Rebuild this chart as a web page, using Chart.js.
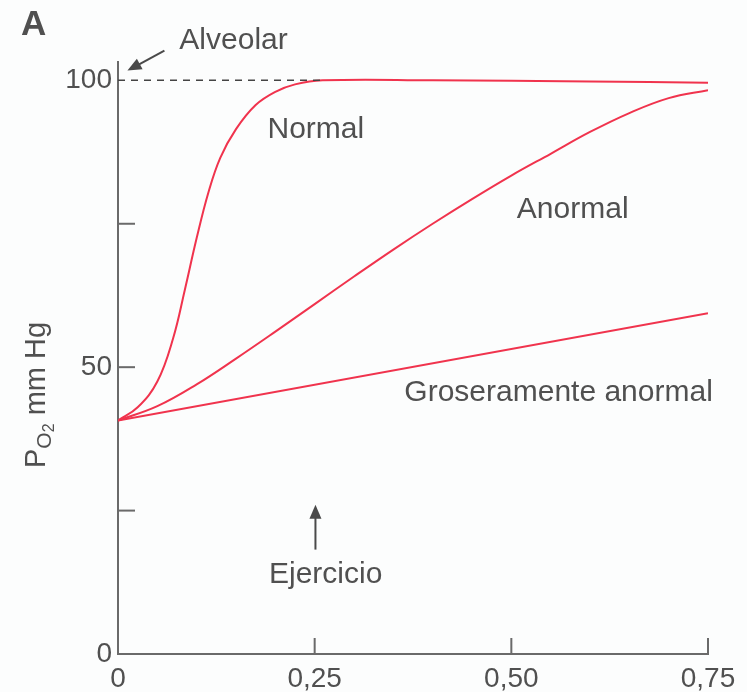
<!DOCTYPE html>
<html>
<head>
<meta charset="utf-8">
<script src="https://cdn.jsdelivr.net/npm/chart.js@4"></script>
<style>
  html, body { margin: 0; padding: 0; background: #fcfdfd; }
  canvas { display: block; }
</style>
</head>
<body>
<canvas id="chart" width="747" height="692"></canvas>
<script>
// tick values
const xTicks = [0, 0.25, 0.5, 0.75];
const yTicks = [0, 25, 50, 75, 100];
const yTickLabels = ["0", "", "50", "", "100"];

// curves (x = time, y = PO2 mm Hg)
const normalX = [0, 0.025, 0.05, 0.07, 0.085, 0.1, 0.115, 0.13, 0.15, 0.175, 0.2, 0.225, 0.26, 0.4, 0.6, 0.75];
const normalY = [40.7, 43, 47.5, 55, 63.5, 72.5, 80.5, 86.5, 91.5, 95.7, 98, 99.3, 100, 100, 99.8, 99.6];

const anormalX = [0, 0.05, 0.1, 0.15, 0.2, 0.25, 0.3, 0.35, 0.4, 0.45, 0.5, 0.55, 0.6, 0.65, 0.7, 0.75];
const anormalY = [40.7, 43.2, 47, 51.5, 56.2, 61, 65.8, 70.5, 75, 79.3, 83.4, 87.2, 91, 94.3, 96.9, 98.3];

const groseroX = [0, 0.75];
const groseroY = [40.7, 59.4];

const alveolarX = [0, 0.26];
const alveolarY = [100, 100];

const RED = "#f0334d";
const INK = "#505050";
const AXIS = "#6a6a6a";
const FONT = "'Liberation Sans', Arial, sans-serif";

const pts = (xs, ys) => xs.map((x, i) => ({ x: x, y: ys[i] }));

const arrow = function (ctx, x1, y1, x2, y2, head, half) {
  const a = Math.atan2(y2 - y1, x2 - x1);
  ctx.beginPath();
  ctx.moveTo(x1, y1);
  ctx.lineTo(x2 - Math.cos(a) * head * 0.8, y2 - Math.sin(a) * head * 0.8);
  ctx.stroke();
  ctx.beginPath();
  ctx.moveTo(x2, y2);
  ctx.lineTo(x2 - Math.cos(a) * head + Math.sin(a) * half, y2 - Math.sin(a) * head - Math.cos(a) * half);
  ctx.lineTo(x2 - Math.cos(a) * head - Math.sin(a) * half, y2 - Math.sin(a) * head + Math.cos(a) * half);
  ctx.closePath();
  ctx.fill();
};

const decorations = {
  id: "decorations",
  afterDraw(chart) {
    const ctx = chart.ctx;
    const xs = chart.scales.x;
    const ys = chart.scales.y;
    const px = (v) => xs.getPixelForValue(v);
    const py = (v) => ys.getPixelForValue(v);
    ctx.save();

    // inward tick marks
    ctx.strokeStyle = AXIS;
    ctx.lineWidth = 2;
    [25, 50, 75].forEach((v) => {
      ctx.beginPath();
      ctx.moveTo(px(0), py(v));
      ctx.lineTo(px(0) + 17, py(v));
      ctx.stroke();
    });
    [0.25, 0.5, 0.75].forEach((v) => {
      ctx.beginPath();
      ctx.moveTo(px(v), py(0));
      ctx.lineTo(px(v), py(0) - 16);
      ctx.stroke();
    });

    // labels
    ctx.fillStyle = INK;
    ctx.textBaseline = "middle";
    ctx.font = "30px " + FONT;
    ctx.textAlign = "left";
    ctx.fillText("Normal", px(0.19), py(91.4));
    ctx.fillText("Anormal", px(0.507), py(77.5));
    ctx.fillText("Groseramente anormal", px(0.364), py(45.5));
    ctx.fillText("Alveolar", px(0.078), py(106.9));
    ctx.textAlign = "center";
    ctx.fillText("Ejercicio", px(0.264), py(13.8));

    // arrows
    ctx.strokeStyle = "#4a4a4a";
    ctx.fillStyle = "#4a4a4a";
    ctx.lineWidth = 2;
    arrow(ctx, px(0.059), py(105.2), px(0.012), py(101.7), 14, 6);
    arrow(ctx, px(0.251), py(18.2), px(0.251), py(26), 14, 6);

    // panel letter
    ctx.fillStyle = INK;
    ctx.textAlign = "left";
    ctx.textBaseline = "alphabetic";
    ctx.font = "bold 35px " + FONT;
    ctx.fillText("A", 21, 35);

    // y axis title: PO2 mm Hg
    ctx.translate(45, 468);
    ctx.rotate(-Math.PI / 2);
    ctx.font = "29px " + FONT;
    ctx.fillText("P", 0, 0);
    let w = ctx.measureText("P").width;
    ctx.font = "21px " + FONT;
    ctx.fillText("O", w, 6);
    w += ctx.measureText("O").width;
    ctx.font = "16px " + FONT;
    ctx.fillText("2", w, 9);
    w += ctx.measureText("2").width;
    ctx.font = "29px " + FONT;
    ctx.fillText(" mm Hg", w, 0);

    ctx.restore();
  },
};

const line = (data, color, extra) =>
  Object.assign(
    {
      data: data,
      borderColor: color,
      borderWidth: 2,
      pointRadius: 0,
      fill: false,
      tension: 0.4,
    },
    extra || {},
  );

new Chart(document.getElementById("chart").getContext("2d"), {
  type: "line",
  data: {
    datasets: [
      line(pts(alveolarX, alveolarY), "#444", { borderDash: [7, 6], borderWidth: 1.5, tension: 0 }),
      line(pts(normalX, normalY), RED),
      line(pts(anormalX, anormalY), RED),
      line(pts(groseroX, groseroY), RED, { tension: 0 }),
    ],
  },
  options: {
    responsive: false,
    devicePixelRatio: 1,
    animation: false,
    layout: { padding: { left: 0, top: 62, right: 39, bottom: 0 } },
    plugins: { legend: { display: false }, tooltip: { enabled: false } },
    scales: {
      x: {
        type: "linear",
        min: 0,
        max: 0.75,
        afterBuildTicks: (s) => { s.ticks = xTicks.map((v) => ({ value: v })); },
        afterFit: (s) => { s.height = 38; },
        grid: { display: true, drawOnChartArea: false, drawTicks: false },
        border: { display: true, color: AXIS, width: 2 },
        ticks: {
          color: INK,
          padding: 8,
          maxRotation: 0,
          autoSkip: false,
          font: { size: 28, family: FONT },
          callback: (v) => (v === 0 ? "0" : v.toFixed(2).replace(".", ",")),
        },
      },
      y: {
        min: 0,
        max: 103.2,
        afterBuildTicks: (s) => { s.ticks = yTicks.map((v) => ({ value: v })); },
        afterFit: (s) => { s.width = 118; },
        grid: { display: true, drawOnChartArea: false, drawTicks: false },
        border: { display: true, color: AXIS, width: 2 },
        ticks: {
          color: INK,
          padding: 6,
          autoSkip: false,
          font: { size: 28, family: FONT },
          callback: (v) => yTickLabels[yTicks.indexOf(v)],
        },
      },
    },
  },
  plugins: [decorations],
});
</script>
</body>
</html>
